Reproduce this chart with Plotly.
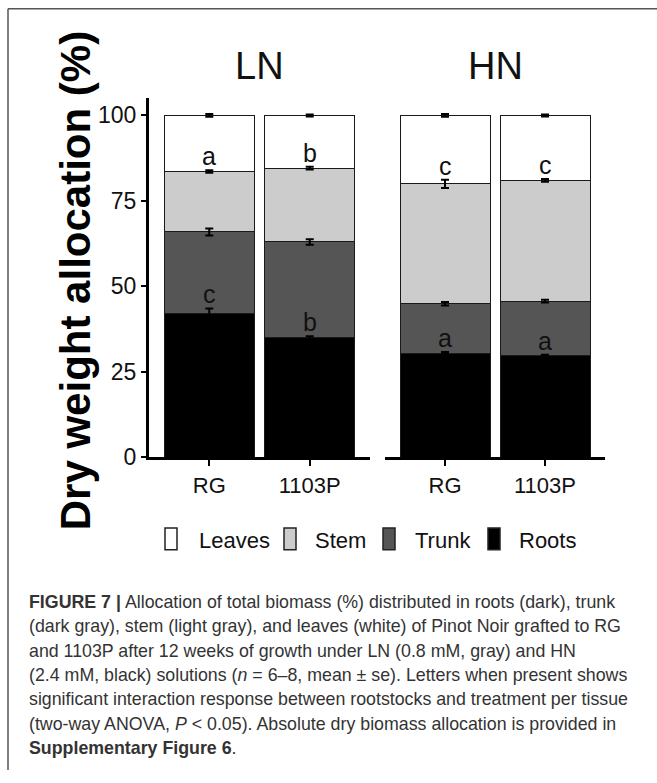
import numpy as np
import plotly.graph_objects as go

W, H = 657, 783

rootstocks = ["RG", "1103P"]
treatments = ["LN", "HN"]
tissues = ["Roots", "Trunk", "Stem", "Leaves"]

# mean share of total dry weight (%), one value per rootstock
roots_ln = [42.2, 35.0]
trunk_ln = [23.7, 28.0]
stem_ln = [17.7, 21.6]
leaves_ln = [16.4, 15.4]

roots_hn = [30.5, 29.7]
trunk_hn = [14.4, 16.0]
stem_hn = [35.1, 35.3]
leaves_hn = [20.0, 19.0]

# standard errors of the means
roots_se_ln = [1.3, 0.4]
trunk_se_ln = [1.0, 0.8]
stem_se_ln = [0.4, 0.4]
leaves_se_ln = [0.4, 0.3]

roots_se_hn = [0.3, 0.3]
trunk_se_hn = [0.5, 0.4]
stem_se_hn = [1.2, 0.4]
leaves_se_hn = [0.4, 0.3]

# significance letters (lower: above roots, upper: above stem)
letters_low_ln = ["c", "b"]
letters_up_ln = ["a", "b"]
letters_low_hn = ["a", "a"]
letters_up_hn = ["c", "c"]

fills = {"Roots": "#000000", "Trunk": "#555555", "Stem": "#cccccc", "Leaves": "#ffffff"}

SANS = "Liberation Sans, Arial, sans-serif"


def px(x):
    return x / W


def py(y):
    return 1 - y / H


panels = {
    "LN": dict(
        xaxis="x",
        values=[roots_ln, trunk_ln, stem_ln, leaves_ln],
        se=[roots_se_ln, trunk_se_ln, stem_se_ln, leaves_se_ln],
        low=letters_low_ln,
        up=letters_up_ln,
    ),
    "HN": dict(
        xaxis="x2",
        values=[roots_hn, trunk_hn, stem_hn, leaves_hn],
        se=[roots_se_hn, trunk_se_hn, stem_se_hn, leaves_se_hn],
        low=letters_low_hn,
        up=letters_up_hn,
    ),
}

fig = go.Figure()
annotations = []

for trt in treatments:
    p = panels[trt]
    # stacked segments
    for tissue, vals in zip(tissues, p["values"]):
        fig.add_trace(go.Bar(
            x=rootstocks, y=vals, name=tissue, width=0.9,
            marker=dict(color=fills[tissue], line=dict(color="#1a1a1a", width=1)),
            xaxis=p["xaxis"], yaxis="y", showlegend=False, hoverinfo="skip",
        ))
    tops = np.cumsum(np.array(p["values"]), axis=0)
    # error bars drawn on top of all segments
    for k, ses in enumerate(p["se"]):
        fig.add_trace(go.Scatter(
            x=rootstocks, y=tops[k], mode="markers",
            marker=dict(size=1, color="rgba(0,0,0,0)"),
            error_y=dict(type="data", array=ses, color="#000000", thickness=2, width=4),
            xaxis=p["xaxis"], yaxis="y", showlegend=False, hoverinfo="skip",
        ))
    # significance letters
    for row, letters in ((0, p["low"]), (2, p["up"])):
        for i, lab in enumerate(letters):
            annotations.append(dict(
                x=rootstocks[i], y=tops[row][i] + p["se"][row][i] + 1.2,
                xref=p["xaxis"], yref="y", text=lab, showarrow=False,
                yanchor="bottom", yshift=-6,
                font=dict(family=SANS, size=25, color="#111111"),
            ))

axis_common = dict(
    type="category", range=[-0.6, 1.6], showline=True, linecolor="#000000",
    linewidth=3, ticks="outside", ticklen=6, tickwidth=2, tickcolor="#000000",
    tickfont=dict(family=SANS, size=22, color="#111111"),
    showgrid=False, zeroline=False, fixedrange=True, anchor="y",
)

fig.update_layout(
    width=W, height=H, autosize=False,
    margin=dict(l=0, r=0, t=0, b=0),
    paper_bgcolor="#ffffff", plot_bgcolor="#ffffff",
    barmode="stack", showlegend=False,
    xaxis=dict(domain=[px(149), px(370)], **axis_common),
    xaxis2=dict(domain=[px(385), px(605)], **axis_common),
    yaxis=dict(
        domain=[py(465), py(100)], range=[0, 105],
        tickvals=[0, 25, 50, 75, 100], ticktext=["0", "25", "50", "75", "100"],
        showline=True, linecolor="#000000", linewidth=3,
        ticks="outside", ticklen=5, tickwidth=2, tickcolor="#000000",
        tickfont=dict(family=SANS, size=23, color="#111111"),
        showgrid=False, zeroline=False, fixedrange=True, anchor="x",
    ),
)

# facet strip labels
for trt, cx in (("LN", 259.5), ("HN", 495)):
    annotations.append(dict(
        x=px(cx), y=py(67.5), xref="paper", yref="paper", text=trt,
        showarrow=False, xanchor="center", yanchor="middle",
        font=dict(family=SANS, size=38, color="#111111"),
    ))

# y axis title
annotations.append(dict(
    x=px(75), y=py(286), xref="paper", yref="paper",
    text="<b>Dry weight allocation (%)</b>", textangle=-90, showarrow=False,
    xanchor="center", yanchor="middle",
    font=dict(family=SANS, size=42, color="#000000"),
))

# legend drawn as key boxes and labels
shapes = []
legend_items = [
    ("Leaves", 165, 197),
    ("Stem", 284, 313),
    ("Trunk", 383, 413),
    ("Roots", 488, 517),
]
for name, bx, tx in legend_items:
    shapes.append(dict(
        type="rect", xref="paper", yref="paper",
        x0=px(bx), x1=px(bx + 12), y0=py(559), y1=py(537),
        fillcolor=fills[name], line=dict(color="#222222", width=1.5),
    ))
    annotations.append(dict(
        x=px(tx), y=py(550), xref="paper", yref="paper", text=name,
        showarrow=False, xanchor="left", yanchor="middle",
        font=dict(family=SANS, size=22, color="#111111"),
    ))

# frame around the figure
shapes.append(dict(type="line", xref="paper", yref="paper",
                   x0=px(8), x1=1.0, y0=py(9), y1=py(9),
                   line=dict(color="#555555", width=1.5)))
shapes.append(dict(type="line", xref="paper", yref="paper",
                   x0=px(8), x1=px(8), y0=py(9), y1=0.0,
                   line=dict(color="#555555", width=1.5)))

# caption
caption = [
    "<b>FIGURE 7 |</b> Allocation of total biomass (%) distributed in roots (dark), trunk",
    "(dark gray), stem (light gray), and leaves (white) of Pinot Noir grafted to RG",
    "and 1103P after 12 weeks of growth under LN (0.8 mM, gray) and HN",
    "(2.4 mM, black) solutions (<i>n</i> = 6–8, mean ± se). Letters when present shows",
    "significant interaction response between rootstocks and treatment per tissue",
    "(two-way ANOVA, <i>P</i> &lt; 0.05). Absolute dry biomass allocation is provided in",
    "<b>Supplementary Figure 6</b>.",
]
for i, line in enumerate(caption):
    annotations.append(dict(
        x=px(27), y=py(612 + i * 24.8), xref="paper", yref="paper", text=line,
        showarrow=False, xanchor="left", yanchor="middle",
        font=dict(family=SANS, size=17.8, color="#333333"),
    ))

fig.update_layout(annotations=annotations, shapes=shapes)
fig.write_html("out.html")
